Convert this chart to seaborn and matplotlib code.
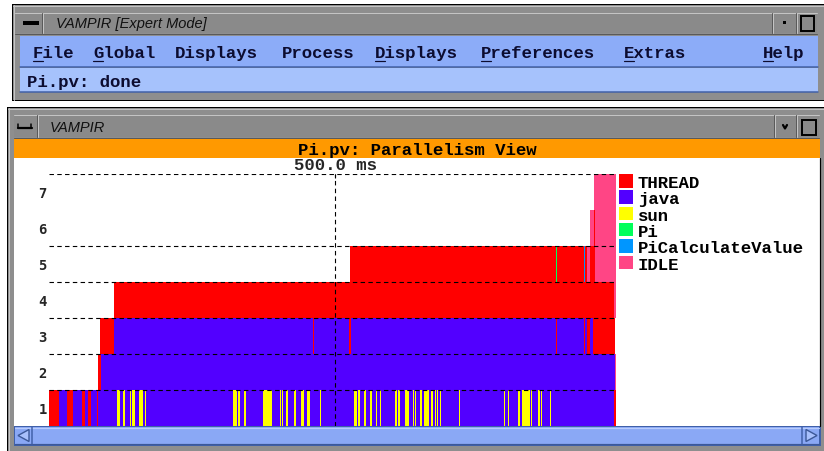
import matplotlib
matplotlib.use("Agg")
import matplotlib.pyplot as plt
import seaborn as sns
import pandas as pd
from matplotlib.patches import Rectangle, Polygon
from matplotlib.lines import Line2D

# ---------------- data ----------------
CATEGORIES = ["THREAD", "java", "sun", "Pi", "PiCalculateValue", "IDLE"]
COLORS = ["#ff0000", "#5200ff", "#ffff00", "#00ff5a", "#0096ff", "#ff4585"]
LEVELS = [1, 2, 3, 4, 5, 6, 7]
LEVEL_LABELS = ["1", "2", "3", "4", "5", "6", "7"]
GRID_LEVELS = [1.5, 2.5, 3.5, 4.5, 5.5, 7.5]
MARK_MS = 500.0
MARK_LABEL = "500.0 ms"
TIME_END = 991.0

TITLE_MAIN = "VAMPIR [Expert Mode]"
TITLE_VIEW_WIN = "VAMPIR"
MENU_ITEMS = ["File", "Global", "Displays", "Process", "Displays", "Preferences", "Extras", "Help"]
STATUS_TEXT = "Pi.pv: done"
VIEW_TITLE = "Pi.pv: Parallelism View"

# level 1: java background with THREAD and sun stripes (ms)
ROW1_JAVA = [(0.0, 988.0)]
ROW1_THREAD = [(0.0, 17.5), (32.0, 42.0), (57.7, 62.4), (68.2, 72.9), (84.4, 85.7),
               (86.9, 87.9), (988.0, 991.0)]
ROW1_SUN = [(118.9, 124.1), (129.4, 132.3), (141.6, 143.9), (145.6, 150.4), (157.3, 164.3),
            (167.8, 169.6), (321.7, 328.7), (330.4, 333.4), (340.9, 343.9), (374.1, 389.9),
            (403.9, 405.7), (407.4, 409.2), (414.4, 417.9), (428.3, 431.3), (440.6, 445.3),
            (451.1, 456.4), (473.8, 475.5), (533.8, 538.0), (540.2, 543.7), (550.7, 554.2),
            (561.2, 565.2), (571.7, 573.4), (578.7, 580.4), (604.9, 607.9), (610.2, 613.7),
            (622.4, 629.4), (636.4, 638.1), (640.4, 642.2), (648.6, 652.1), (655.6, 664.4),
            (667.9, 671.4), (674.9, 676.6), (678.4, 680.1), (683.6, 685.4), (716.8, 718.6),
            (795.5, 797.2), (802.5, 804.2), (820.0, 823.5), (827.0, 841.0), (842.7, 844.5),
            (855.0, 857.5), (860.2, 862.0), (876.0, 877.7)]
ROW2_SEGMENTS = [("THREAD", 85.7, 90.4), ("java", 90.4, 988.6), ("IDLE", 988.6, 991.0)]
ROW3_SEGMENTS = [("THREAD", 89.2, 113.6), ("java", 113.6, 950.6), ("THREAD", 461.6, 463.3),
                 ("THREAD", 524.5, 527.5), ("THREAD", 886.4, 888.2), ("THREAD", 935.3, 937.1),
                 ("THREAD", 940.6, 945.9), ("THREAD", 950.6, 989.6)]
ROW4_SEGMENTS = [("THREAD", 113.6, 987.8), ("IDLE", 987.8, 991.0)]
ROW5_SEGMENTS = [("THREAD", 526.2, 886.4), ("Pi", 886.4, 888.6), ("THREAD", 888.6, 935.3),
                 ("PiCalculateValue", 935.3, 937.1), ("THREAD", 937.1, 940.1),
                 ("IDLE", 940.1, 945.9), ("THREAD", 945.9, 954.6), ("IDLE", 954.6, 991.0)]
ROW6_SEGMENTS = [("IDLE", 945.9, 952.8), ("THREAD", 952.8, 954.6), ("IDLE", 954.6, 991.0)]
ROW7_SEGMENTS = [("IDLE", 953.4, 991.0)]

# ---------------- build table ----------------
rows = []
for s, e in ROW1_JAVA:
    rows.append((1, "java", s, e))
for s, e in ROW1_THREAD:
    rows.append((1, "THREAD", s, e))
for s, e in ROW1_SUN:
    rows.append((1, "sun", s, e))
for lvl, segs in zip([2, 3, 4, 5, 6, 7], [ROW2_SEGMENTS, ROW3_SEGMENTS, ROW4_SEGMENTS,
                                           ROW5_SEGMENTS, ROW6_SEGMENTS, ROW7_SEGMENTS]):
    for c, s, e in segs:
        rows.append((lvl, c, s, e))
df = pd.DataFrame(rows, columns=["level", "state", "start", "end"])
df["dur"] = df["end"] - df["start"]
palette = dict(zip(CATEGORIES, COLORS))

# ---------------- figure ----------------
sns.set_theme(style="white")
plt.rcParams["font.family"] = ["DejaVu Sans"]
W, H = 824, 451
fig = plt.figure(figsize=(W / 100, H / 100), dpi=100, facecolor="white")

bg = fig.add_axes([0, 0, 1, 1], zorder=0)
bg.set_xlim(0, W)
bg.set_ylim(H, 0)
bg.axis("off")

def rect(x0, y0, x1, y1, color, ec="none", lw=0, z=1):
    bg.add_patch(Rectangle((x0, y0), x1 - x0, y1 - y0, facecolor=color,
                           edgecolor=ec, linewidth=lw, zorder=z))

def hline(x0, x1, y, color, lw=1.0, z=3):
    bg.add_line(Line2D([x0, x1], [y, y], color=color, linewidth=lw * 0.72, zorder=z))

def vline(x, y0, y1, color, lw=1.0, z=3):
    bg.add_line(Line2D([x, x], [y0, y1], color=color, linewidth=lw * 0.72, zorder=z))

GRAY = "#8e8e8e"
LIGHT = "#c4c4c4"
DARK = "#5a5a5a"
MENU_BLUE = "#8cacf8"
STATUS_BLUE = "#a6c2fc"
BLUE_EDGE = "#4060a8"
MONO = "Liberation Mono"
FS = 12.5

# ---- top window ----
rect(12, 4, 824, 101, "black")
rect(13, 5, 824, 100, GRAY)
hline(13, 824, 6, LIGHT)
vline(14, 5, 100, LIGHT)
# title bar
rect(15, 13, 817, 33, "#8a8a8a")
hline(15, 817, 13, LIGHT)
hline(15, 817, 33.5, DARK)
vline(43.5, 13, 33, LIGHT)
vline(42.5, 13, 33, DARK)
rect(23, 21, 39, 24.5, "black", z=4)
vline(772.5, 13, 33, DARK)
vline(773.5, 13, 33, LIGHT)
vline(796.5, 13, 33, DARK)
vline(797.5, 13, 33, LIGHT)
rect(783.5, 20.5, 786.5, 23.5, "black", z=4)
rect(801.5, 15.5, 814.5, 31, "none", ec="black", lw=1.4, z=4)
bg.text(56, 28, TITLE_MAIN, fontsize=10.5, style="italic", family="Liberation Sans",
        color="#111111", va="baseline", ha="left", zorder=5)
# menu bar
rect(20.5, 36, 818, 66.5, MENU_BLUE)
hline(20.5, 818, 66.5, BLUE_EDGE, lw=1.5)
menu_x = [33, 93.5, 175, 282, 374.7, 481, 624, 763]
underlined = [True, True, False, False, True, True, True, True]
for x, label, u in zip(menu_x, MENU_ITEMS, underlined):
    bg.text(x, 58, label, fontsize=FS, family=MONO, weight="bold", color="#0c0c30",
            va="baseline", ha="left", zorder=5)
    if u:
        hline(x, x + 10, 61, "#0c0c30", lw=1.2, z=5)
# status bar
rect(20.5, 68, 818, 92, STATUS_BLUE)
hline(20.5, 818, 92, BLUE_EDGE, lw=1.5)
bg.text(27, 87, STATUS_TEXT, fontsize=FS, family=MONO, weight="bold", color="#0c0c30",
        va="baseline", ha="left", zorder=5)

# ---- second window ----
rect(7, 107, 824, 451, "black")
rect(8, 108, 824, 451, GRAY)
hline(8, 824, 109, LIGHT)
vline(9, 108, 451, LIGHT)
rect(14, 115, 819, 137, "#8a8a8a")
hline(14, 819, 115, LIGHT)
hline(14, 819, 137.5, DARK)
vline(38.5, 115, 137, LIGHT)
vline(37.5, 115, 137, DARK)
hline(18, 32, 127.5, "black", lw=2.2, z=4)
vline(18.5, 124, 128, "black", lw=1.5, z=4)
vline(31.5, 124, 128, "black", lw=1.5, z=4)
vline(774.5, 115, 137, DARK)
vline(775.5, 115, 137, LIGHT)
vline(796.5, 115, 137, DARK)
vline(797.5, 115, 137, LIGHT)
bg.add_line(Line2D([783, 785, 787], [125, 128.5, 125], color="black", linewidth=1.6, zorder=4))
rect(802.5, 119.5, 816, 135, "none", ec="black", lw=1.4, z=4)
bg.text(50, 132, TITLE_VIEW_WIN, fontsize=10.5, style="italic", family="Liberation Sans",
        color="#111111", va="baseline", ha="left", zorder=5)
# orange title
rect(14, 139, 820, 158, "#ff9900")
bg.text(417, 155, VIEW_TITLE, fontsize=FS, family=MONO, weight="bold", color="black",
        va="baseline", ha="center", zorder=5)
# white plot area
rect(14, 158, 820, 426, "white")
vline(820, 158, 426, "black", lw=1.2)
# scrollbar
rect(14, 425.5, 821, 446, BLUE_EDGE)
rect(15.5, 427, 819.5, 444, "#8aa8f5")
hline(15.5, 819.5, 427.5, "#b8ccfc", lw=1.2, z=3)
hline(15.5, 819.5, 443.5, "#3c5898", lw=1.2, z=3)
vline(32, 427, 444, BLUE_EDGE, lw=1.5)
vline(802.5, 427, 444, BLUE_EDGE, lw=1.5)
bg.add_patch(Polygon([[29, 429.5], [29, 441.5], [18, 435.5]], closed=True, facecolor="#a8c0fc",
                     edgecolor="#3c5898", linewidth=1.0, zorder=4))
bg.add_patch(Polygon([[806, 429.5], [806, 441.5], [817, 435.5]], closed=True, facecolor="#a8c0fc",
                     edgecolor="#3c5898", linewidth=1.0, zorder=4))

# ---------------- chart ----------------
left_px, right_px, top_px, bot_px = 49, 616, 174, 426
ax = fig.add_axes([left_px / W, (H - bot_px) / H, (right_px - left_px) / W,
                   (bot_px - top_px) / H], zorder=2)
ax.set_facecolor("none")
for lvl, state, start, dur in df[["level", "state", "start", "dur"]].itertuples(index=False):
    ax.barh(lvl, dur, left=start, height=1.0, color=palette[state], linewidth=0, zorder=2)
ax.set_xlim(0, TIME_END)
ax.set_ylim(0.5, 7.5)
for g in GRID_LEVELS:
    ax.axhline(g, xmin=0, xmax=0.997, color="black", linewidth=0.8, dashes=(4, 3), zorder=5)
ax.axvline(MARK_MS, color="black", linewidth=0.8, dashes=(4, 3), zorder=5)
sns.despine(ax=ax, left=True, bottom=True, right=True, top=True)
ax.set_yticks(LEVELS)
ax.set_yticklabels(LEVEL_LABELS, family="DejaVu Sans Mono", weight="bold", fontsize=10)
ax.tick_params(axis="y", length=0, pad=1.5)
ax.set_xticks([MARK_MS])
ax.set_xticklabels([MARK_LABEL], family=MONO, fontsize=FS, weight="bold")
ax.tick_params(axis="x", top=True, bottom=False, labeltop=True, labelbottom=False,
               direction="in", length=3, width=0.8, pad=0.5, color="black")
ax.grid(False)

# legend
for i, (cat, col) in enumerate(zip(CATEGORIES, COLORS)):
    y0 = 174 + i * 16.3
    rect(619, y0, 633, y0 + 13.5, col, z=4)
    bg.text(638, y0 + 14, cat, fontsize=FS, family=MONO, weight="bold", color="black",
            va="baseline", ha="left", zorder=5)

fig.savefig("out.png", dpi=100, facecolor="white")
